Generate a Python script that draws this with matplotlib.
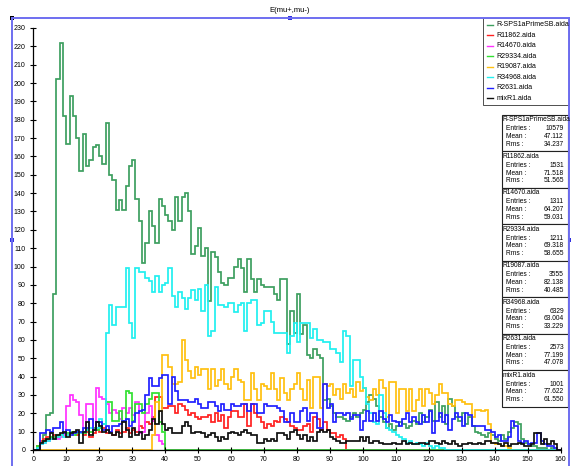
import numpy as np
import matplotlib
matplotlib.use("Agg")
import matplotlib.pyplot as plt
from matplotlib.patches import Rectangle
from matplotlib.lines import Line2D

plt.rcParams['font.family'] = ['Liberation Sans', 'DejaVu Sans']

# histogram contents, 160 bins of width 1 from 0 to 160
names = ["R-SPS1aPrimeSB.aida", "R11862.aida", "R14670.aida", "R29334.aida",
         "R19087.aida", "R34968.aida", "R2631.aida", "mixR1.aida"]
colors = ["#3d9f5f", "#ff2020", "#ff30ff", "#30e030",
          "#ffc010", "#20f0f0", "#2020ff", "#101010"]

sps1a = [0, 2, 4, 8, 19, 20, 85, 202, 222, 182,
         167, 193, 182, 170, 152, 172, 155, 158, 165, 166,
         160, 156, 178, 150, 147, 131, 136, 131, 144, 155,
         158, 137, 125, 102, 113, 130, 122, 113, 137, 133,
         128, 125, 120, 138, 125, 138, 140, 130, 107, 111,
         121, 106, 110, 81, 108, 105, 97, 91, 90, 94,
         94, 100, 104, 99, 86, 104, 93, 86, 93, 90,
         89, 89, 89, 85, 82, 93, 93, 58, 76, 64,
         85, 63, 68, 52, 50, 55, 52, 50, 27, 28,
         24, 20, 18, 18, 17, 16, 18, 20, 18, 20,
         22, 26, 30, 28, 24, 18, 15, 12, 14, 11,
         13, 15, 14, 12, 13, 16, 14, 20, 15, 18,
         22, 16, 26, 18, 24, 14, 28, 24, 18, 16,
         20, 14, 18, 13, 10, 9, 8, 7, 9, 8,
         6, 5, 8, 6, 10, 12, 15, 14, 6, 4,
         3, 2, 2, 1, 1, 1, 0, 1, 0, 0]

r11862 = [0, 2, 5, 6, 7, 6, 8, 7, 8, 9,
          8, 9, 10, 8, 9, 8, 10, 7, 9, 11,
          10, 12, 9, 10, 8, 11, 9, 10, 12, 9,
          11, 10, 13, 12, 15, 14, 18, 29, 29, 23,
          23, 24, 24, 20, 25, 24, 22, 19, 20, 18,
          17, 18, 18, 19, 15, 20, 16, 19, 12, 18,
          21, 21, 18, 18, 25, 13, 25, 20, 18, 15,
          12, 14, 13, 16, 15, 18, 17, 15, 13, 12,
          11, 11, 13, 14, 10, 18, 17, 11, 15, 11,
          9, 9, 7, 8, 6, 0, 0, 0, 0, 0] + [0] * 60

r14670 = [0, 1, 3, 4, 5, 6, 7, 6, 7, 8,
          24, 30, 27, 26, 19, 10, 25, 25, 12, 34,
          29, 28, 25, 20, 22, 20, 17, 23, 20, 23,
          19, 26, 9, 10, 20, 24, 16, 8, 5, 3] + [0] * 120

r29334 = [0, 2, 4, 5, 6, 7, 7, 8, 8, 9,
          9, 10, 8, 9, 10, 9, 11, 10, 12, 11,
          12, 14, 26, 26, 16, 16, 21, 16, 32, 31,
          16, 25, 25, 20, 25, 28, 31, 31, 15, 10] + [0] * 120

r19087 = [0] * 36 + [
          8, 26, 21, 52,
          52, 45, 36, 36, 37, 60, 49, 43, 39, 45,
          41, 44, 44, 33, 44, 35, 38, 44, 36, 33,
          40, 44, 38, 37, 27, 27, 42, 33, 27, 36,
          35, 33, 42, 33, 27, 39, 31, 27, 33, 36,
          42, 33, 27, 38, 23, 40, 40, 23, 36, 35,
          36, 30, 33, 28, 36, 31, 33, 29, 37, 32,
          34, 29, 27, 33, 30, 38, 34, 18, 37, 37,
          20, 33, 33, 21, 33, 21, 27, 33, 24, 33,
          31, 25, 30, 36, 31, 31, 25, 24, 27, 27,
          26, 25, 25, 18, 22, 22, 21, 22, 14, 4,
          3, 3, 2, 2, 1] + [0] * 15

r34968 = [0, 1, 3, 4, 5, 6, 6, 7, 8, 7,
          8, 9, 9, 10, 9, 10, 11, 12, 11, 12,
          17, 14, 64, 79, 68, 78, 78, 78, 99, 69,
          61, 99, 97, 97, 94, 92, 86, 95, 86, 90,
          91, 99, 84, 78, 86, 83, 77, 83, 87, 82,
          88, 76, 90, 62, 65, 89, 79, 79, 78, 80,
          80, 75, 79, 80, 65, 80, 82, 82, 68, 69,
          76, 76, 70, 64, 64, 64, 64, 53, 62, 69,
          59, 69, 69, 69, 61, 66, 60, 60, 59, 59,
          55, 55, 53, 48, 65, 62, 35, 49, 49, 40,
          34, 25, 20, 15, 14, 30, 20, 12, 11, 10,
          8, 7, 6, 4, 5, 3, 4, 3, 2, 4,
          2, 1, 2, 1, 1] + [0] * 35

r2631 = [0, 0, 9, 9, 11, 10, 12, 12, 15, 9,
         11, 8, 9, 10, 10, 12, 12, 17, 11, 15,
         15, 11, 13, 10, 13, 13, 14, 16, 17, 13,
         15, 20, 21, 22, 30, 39, 35, 35, 39, 41,
         41, 25, 40, 32, 27, 27, 27, 26, 26, 28,
         25, 23, 23, 26, 26, 24, 21, 25, 22, 22,
         25, 24, 24, 25, 25, 21, 25, 25, 20, 20,
         25, 24, 24, 24, 23, 21, 15, 15, 20, 15,
         15, 21, 23, 16, 20, 20, 12, 12, 36, 23,
         25, 15, 20, 20, 19, 20, 17, 19, 19, 11,
         16, 21, 16, 20, 16, 21, 17, 15, 19, 16,
         15, 13, 17, 20, 15, 18, 15, 14, 19, 15,
         21, 9, 16, 20, 15, 19, 11, 17, 20, 18,
         13, 20, 19, 13, 13, 13, 13, 11, 11, 10,
         7, 8, 5, 5, 7, 16, 13, 5, 4, 5,
         3, 4, 4, 9, 5, 3, 2, 2, 1, 0]

mixr1 = [0, 0, 4, 5, 6, 9, 6, 8, 9, 10,
         7, 9, 10, 11, 4, 10, 15, 8, 11, 15,
         13, 10, 11, 9, 8, 10, 7, 15, 11, 7,
         12, 8, 10, 6, 8, 11, 17, 14, 21, 14,
         11, 12, 9, 9, 9, 13, 15, 13, 9, 10,
         10, 9, 7, 8, 9, 7, 5, 7, 6, 9,
         10, 9, 8, 10, 11, 9, 8, 8, 4, 4,
         6, 5, 6, 5, 9, 9, 8, 6, 10, 11,
         8, 6, 8, 5, 7, 5, 10, 11, 10, 11,
         7, 6, 5, 4, 4, 5, 5, 5, 5, 7,
         5, 7, 4, 5, 5, 4, 3, 3, 3, 4,
         3, 3, 5, 3, 4, 3, 3, 4, 4, 3,
         5, 5, 4, 3, 5, 4, 3, 5, 3, 2,
         3, 3, 4, 3, 3, 4, 3, 5, 5, 4,
         4, 3, 2, 4, 2, 3, 3, 4, 3, 2,
         2, 3, 9, 9, 3, 6, 3, 5, 3, 0]

series = [sps1a, r11862, r14670, r29334, r19087, r34968, r2631, mixr1]

entries = ["10579", "1531", "1311", "1211", "3555", "6329", "2573", "1001"]
means = ["47.112", "71.518", "64.207", "69.318", "82.138", "63.004", "77.199", "77.622"]
rmss = ["34.237", "51.565", "59.031", "58.655", "40.485", "33.229", "47.078", "61.550"]

edges = np.arange(0, 161)

W, H = 572, 466


def fp(x, y):
    # pixel position -> figure fraction
    return x / W, 1 - y / H


fig = plt.figure(figsize=(W / 100, H / 100), dpi=100)
ax = fig.add_axes([33.3 / W, 16 / H, 527.2 / W, 422 / H])

for vals, c in zip(series, colors):
    ax.stairs(vals, edges, baseline=0, color=c, lw=1.25)

ax.set_xlim(0, 160)
ax.set_ylim(0, 230)
ax.set_xticks(np.arange(0, 161, 10))
ax.set_yticks(np.arange(0, 231, 10))
for s in ["top", "right"]:
    ax.spines[s].set_visible(False)
for s in ["left", "bottom"]:
    ax.spines[s].set_linewidth(0.9)
ax.tick_params(direction="inout", length=4.8, width=0.8, labelsize=5)
ax.tick_params(axis="y", pad=3.2)
ax.tick_params(axis="x", pad=2.2)

# title
x, y = fp(290, 10)
fig.text(x, y, "E(mu+,mu-)", ha="center", va="center", fontsize=5.5)

# blue frame with handles
fc = "#6e6ef0"
for xs, ys in [([12, 569], [18, 18]), ([12, 12], [18, 470]), ([569, 569], [18, 470])]:
    p0 = fp(xs[0], ys[0])
    p1 = fp(xs[1], ys[1])
    fig.add_artist(Line2D([p0[0], p1[0]], [p0[1], p1[1]], color=fc, lw=1.4))
for hx, hy, hc in [(12, 18, "black"), (290, 18, "#3030e0"), (12, 240, "#3030e0"), (569, 240, "#3030e0")]:
    x0, y0 = fp(hx - 2, hy + 2)
    fig.add_artist(Rectangle((x0, y0), 4 / W, 4 / H, color=hc, lw=0))

# legend box
x0, y0 = fp(483.3, 105)
fig.add_artist(Rectangle((x0, y0), (569 - 483.3) / W, 87 / H, facecolor="white",
                         edgecolor="#333333", lw=0.6))
for i, (n, c) in enumerate(zip(names, colors)):
    yy = 25 + i * 10.47
    a = fp(486.7, yy)
    b = fp(493.3, yy)
    fig.add_artist(Line2D([a[0], b[0]], [a[1], b[1]], color=c, lw=1.0))
    tx, ty = fp(496.5, yy)
    fig.text(tx, ty, n, ha="left", va="center", fontsize=5)

# statistics boxes
bh = 36.46
for i in range(8):
    top = 115 + i * bh
    x0, y0 = fp(501.5, top + bh)
    fig.add_artist(Rectangle((x0, y0), (568 - 501.5) / W, bh / H, facecolor="white",
                             edgecolor="#222222", lw=0.8))
    tx, ty = fp(502.5, top + 4.8)
    fig.text(tx, ty, names[i], ha="left", va="center", fontsize=4.8)
    for j, (lab, val) in enumerate([("Entries :", entries[i]), ("Mean :", means[i]),
                                     ("Rms :", rmss[i])]):
        yy = top + 14 + j * 7.6
        lx, ly = fp(505.5, yy)
        fig.text(lx, ly, lab, ha="left", va="center", fontsize=4.8)
        rx, ry = fp(564, yy)
        fig.text(rx, ry, val, ha="right", va="center", fontsize=4.8)

fig.savefig("out.png", dpi=100)
